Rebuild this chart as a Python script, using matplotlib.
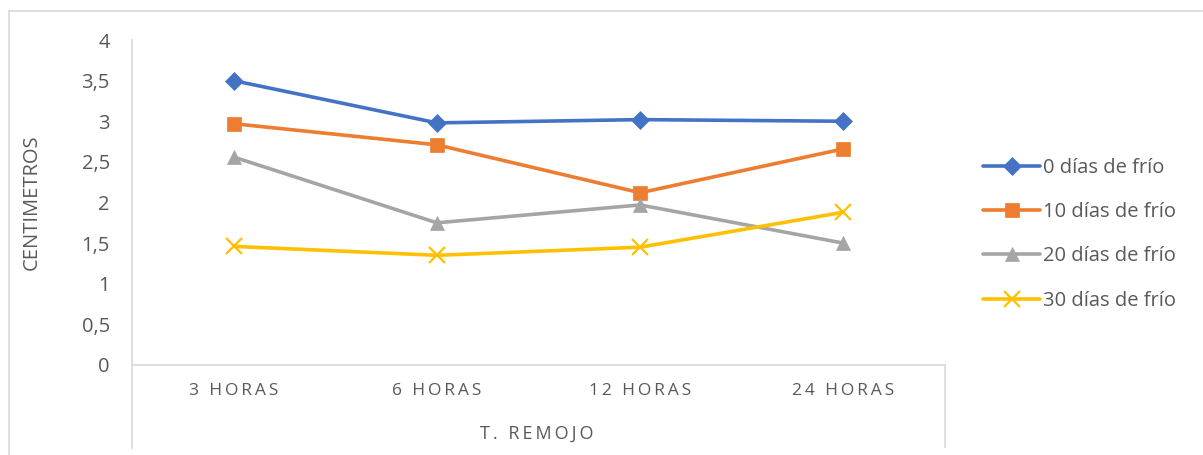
import matplotlib
matplotlib.use("Agg")
import matplotlib.pyplot as plt
from matplotlib.lines import Line2D

plt.rcParams['font.family'] = ['Open Sans', 'DejaVu Sans']

categories = ["3 HORAS", "6 HORAS", "12 HORAS", "24 HORAS"]
series_names = ["0 días de frío", "10 días de frío", "20 días de frío", "30 días de frío"]
s0 = [3.50, 2.98, 3.02, 3.00]
s10 = [2.97, 2.71, 2.12, 2.66]
s20 = [2.56, 1.75, 1.97, 1.50]
s30 = [1.46, 1.35, 1.45, 1.88]
yticks = [0, 0.5, 1, 1.5, 2, 2.5, 3, 3.5, 4]
ytick_labels = ["0", "0,5", "1", "1,5", "2", "2,5", "3", "3,5", "4"]

colors = ["#4472C4", "#ED7D31", "#A5A5A5", "#FFC000"]
markers = ["D", "s", "^", "x"]
msizes = [9, 10, 10, 11]
text_color = "#595959"
axis_color = "#D9D9D9"

W, H = 1203, 455
fig = plt.figure(figsize=(W / 100, H / 100), dpi=100)
ax = fig.add_axes([132 / W, (H - 365) / H, (945 - 132) / W, (365 - 40) / H])

x = list(range(len(categories)))
for vals, name, c, m, ms in zip([s0, s10, s20, s30], series_names, colors, markers, msizes):
    ax.plot(x, vals, color=c, lw=2.6, marker=m, markersize=ms,
            markeredgewidth=1.6 if m == "x" else 0.5, markeredgecolor=c,
            markerfacecolor=c, label=name, solid_capstyle='round', clip_on=False)

ax.set_xlim(-0.5, 3.5)
ax.set_ylim(0, 4)
ax.set_yticks(yticks)
ax.set_yticklabels(ytick_labels)
ax.set_xticks(x)
sp = "\u2009"
spaced = [sp.join(list(c)) for c in categories]
ax.set_xticklabels(spaced)
ax.tick_params(axis='y', length=0, pad=16, labelsize=14.5, labelcolor=text_color)
ax.tick_params(axis='x', length=0, pad=13, labelsize=12.5, labelcolor=text_color)

for s in ["top", "right"]:
    ax.spines[s].set_visible(False)
ax.spines["left"].set_color(axis_color)
ax.spines["bottom"].set_color(axis_color)
ax.spines["left"].set_linewidth(1.2)
ax.spines["bottom"].set_linewidth(1.2)

# axis extension lines below the plot (category box)
fig.add_artist(Line2D([132 / W, 132 / W], [(H - 448) / H, (H - 365) / H], color=axis_color, lw=1.2))
fig.add_artist(Line2D([945 / W, 945 / W], [(H - 447) / H, (H - 365) / H], color=axis_color, lw=1.2))

# outer border (top and left)
fig.add_artist(Line2D([8.5 / W, 8.5 / W], [0, (H - 10.5) / H], color=axis_color, lw=1.2))
fig.add_artist(Line2D([8.5 / W, 1202 / W], [(H - 10.5) / H, (H - 10.5) / H], color=axis_color, lw=1.2))

ax.set_ylabel("CENTIMETROS", color=text_color, fontsize=14.5)
ax.yaxis.set_label_coords(-0.111, 0.5)
fig.text(537 / W, (H - 434) / H, sp.join(list("T. REMOJO")), ha="center", va="center",
         color=text_color, fontsize=13)

handles, labels = ax.get_legend_handles_labels()
leg = fig.legend(handles, labels, loc="upper left", bbox_to_anchor=(975 / W, (H - 150) / H),
                 frameon=False, fontsize=14.5, handlelength=2.85, handletextpad=0.15,
                 labelspacing=1.2, labelcolor=text_color, borderaxespad=0)

fig.savefig("out.png", dpi=100, facecolor="white")
